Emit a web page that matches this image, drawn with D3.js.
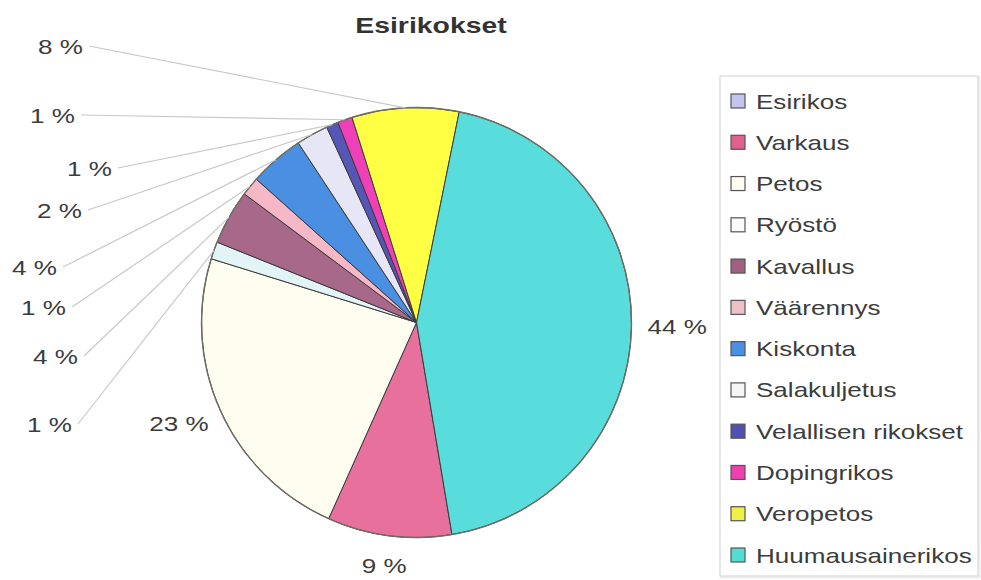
<!DOCTYPE html>
<html>
<head>
<meta charset="utf-8">
<script src="https://cdn.jsdelivr.net/npm/d3@7"></script>
<style>
  html, body { margin: 0; padding: 0; background: #fff; }
  svg { display: block; }
  text { font-family: "Liberation Sans", Arial, sans-serif; }
</style>
</head>
<body>
<svg id="chart" width="981" height="580"></svg>
<script>
// ---- data ----
const title = "Esirikokset";
const categories = ["Esirikos", "Varkaus", "Petos", "Ryöstö", "Kavallus", "Väärennys",
  "Kiskonta", "Salakuljetus", "Velallisen rikokset", "Dopingrikos", "Veropetos", "Huumausainerikos"];
const values = [0, 9.3, 23.0, 1.3, 4.1, 1.4, 4.1, 2.4, 0.9, 1.1, 8.0, 44.0];
const sliceColors = ["#c4c4ee", "#e8709c", "#fffdf0", "#e2f4f6", "#a8688a", "#f6b8c6",
  "#4a8fe2", "#e6e6f6", "#5656b6", "#f040b8", "#ffff44", "#58dcdc"];
const swatchColors = ["#c4c4ee", "#e06090", "#fffdf0", "#fafafa", "#a06080", "#f0c0c8",
  "#4a8fe2", "#f6f6f6", "#5050b0", "#f040b0", "#f0f040", "#52dcd4"];

// ---- layout (not data) ----
const W = 981, H = 580;
const cx = 416.5, cy = 322.5, R = 215;
const startDeg = 170.5;
const STRETCH = 1.24;          // the reference's type is drawn wide
// labels of the thin slices were dragged to the left, Excel-style
const draggedLabels = {
  "Veropetos":           { right: 83, y: 46 },
  "Dopingrikos":         { right: 75, y: 115 },
  "Velallisen rikokset": { right: 112, y: 168 },
  "Salakuljetus":        { right: 82, y: 210 },
  "Kiskonta":            { right: 57, y: 267 },
  "Väärennys":           { right: 66, y: 307 },
  "Kavallus":            { right: 78, y: 356 },
  "Ryöstö":              { right: 72, y: 424 }
};

const svg = d3.select("#chart");
svg.append("rect").attr("width", W).attr("height", H).attr("fill", "#fff");

function stretch(sel, factor) {
  sel.each(function () {
    const len = this.getComputedTextLength();
    d3.select(this).attr("textLength", len * factor).attr("lengthAdjust", "spacingAndGlyphs");
  });
}

// title
svg.append("text")
  .attr("x", 431).attr("y", 33)
  .attr("text-anchor", "middle")
  .attr("font-size", 22).attr("font-weight", "bold")
  .attr("fill", "#333")
  .text(title)
  .call(stretch, 1.29);

const data = categories.map((c, i) => ({ name: c, value: values[i], color: sliceColors[i], swatch: swatchColors[i] }));
const total = d3.sum(values);
const pct = d => d3.format(".0f")(d.value / total * 100) + " %";

const start = startDeg * Math.PI / 180;
const pie = d3.pie().sort(null).value(d => d.value).startAngle(start).endAngle(start + 2 * Math.PI);
const arcs = pie(data);
const arc = d3.arc().innerRadius(0).outerRadius(R);

const g = svg.append("g").attr("transform", `translate(${cx},${cy})`);

// leader lines (behind pie)
const leaderG = svg.append("g");
const pieG = g.append("g");

pieG.selectAll("path.slice")
  .data(arcs.filter(a => a.data.value > 0))
  .join("path")
  .attr("class", "slice")
  .attr("d", arc)
  .attr("fill", d => d.data.color)
  .attr("stroke", "#3a3a3a")
  .attr("stroke-width", 1)
  .attr("stroke-linejoin", "round");

// outer rim
pieG.append("circle").attr("r", R).attr("fill", "none").attr("stroke", "#6e6e62").attr("stroke-width", 1.4);

const fontSize = 21;
const labelColor = "#3c3c3c";

const mid = a => (a.startAngle + a.endAngle) / 2;

arcs.filter(a => a.data.value > 0).forEach(a => {
  const m = mid(a);
  const sx = Math.sin(m), sy = -Math.cos(m);
  const placed = draggedLabels[a.data.name];
  if (placed) {
    svg.append("text")
      .attr("x", placed.right).attr("y", placed.y)
      .attr("dy", "0.36em")
      .attr("text-anchor", "end")
      .attr("font-size", fontSize)
      .attr("fill", labelColor)
      .text(pct(a.data))
      .call(stretch, STRETCH);
    leaderG.append("line")
      .attr("x1", placed.right + 6).attr("y1", placed.y)
      .attr("x2", cx + sx * R).attr("y2", cy + sy * R)
      .attr("stroke", "#c8c8c8").attr("stroke-width", 1.2);
  } else {
    const t = svg.append("text")
      .attr("font-size", fontSize)
      .attr("fill", labelColor)
      .attr("text-anchor", "middle")
      .attr("dy", "0.36em")
      .text(pct(a.data))
      .call(stretch, STRETCH);
    const w = +t.attr("textLength");
    const hh = 14;
    const px = cx + sx * (R + 16) + sx * w / 2;
    const py = cy + sy * (R + 16) + sy * hh;
    t.attr("x", px).attr("y", py);
  }
});

// legend
const legX = 720, legY = 76, legW = 258, legH = 500;
svg.append("rect")
  .attr("x", legX + 1.5).attr("y", legY + 1.5).attr("width", legW).attr("height", legH)
  .attr("fill", "none").attr("stroke", "#ececec").attr("stroke-width", 2);
svg.append("rect")
  .attr("x", legX).attr("y", legY).attr("width", legW).attr("height", legH)
  .attr("fill", "#fff").attr("stroke", "#cfcfcf").attr("stroke-width", 1);

const ly = d3.scalePoint().domain(categories).range([101, 555]);
const item = svg.append("g").selectAll("g")
  .data(data)
  .join("g")
  .attr("transform", d => `translate(${legX}, ${ly(d.name)})`);
item.append("rect")
  .attr("x", 11).attr("y", -7).attr("width", 14).attr("height", 14)
  .attr("fill", d => d.swatch)
  .attr("stroke", "#555").attr("stroke-width", 1.2);
item.append("text")
  .attr("x", 36).attr("dy", "0.36em")
  .attr("font-size", fontSize)
  .attr("fill", labelColor)
  .text(d => d.name)
  .call(stretch, 1.24);
</script>
</body>
</html>
